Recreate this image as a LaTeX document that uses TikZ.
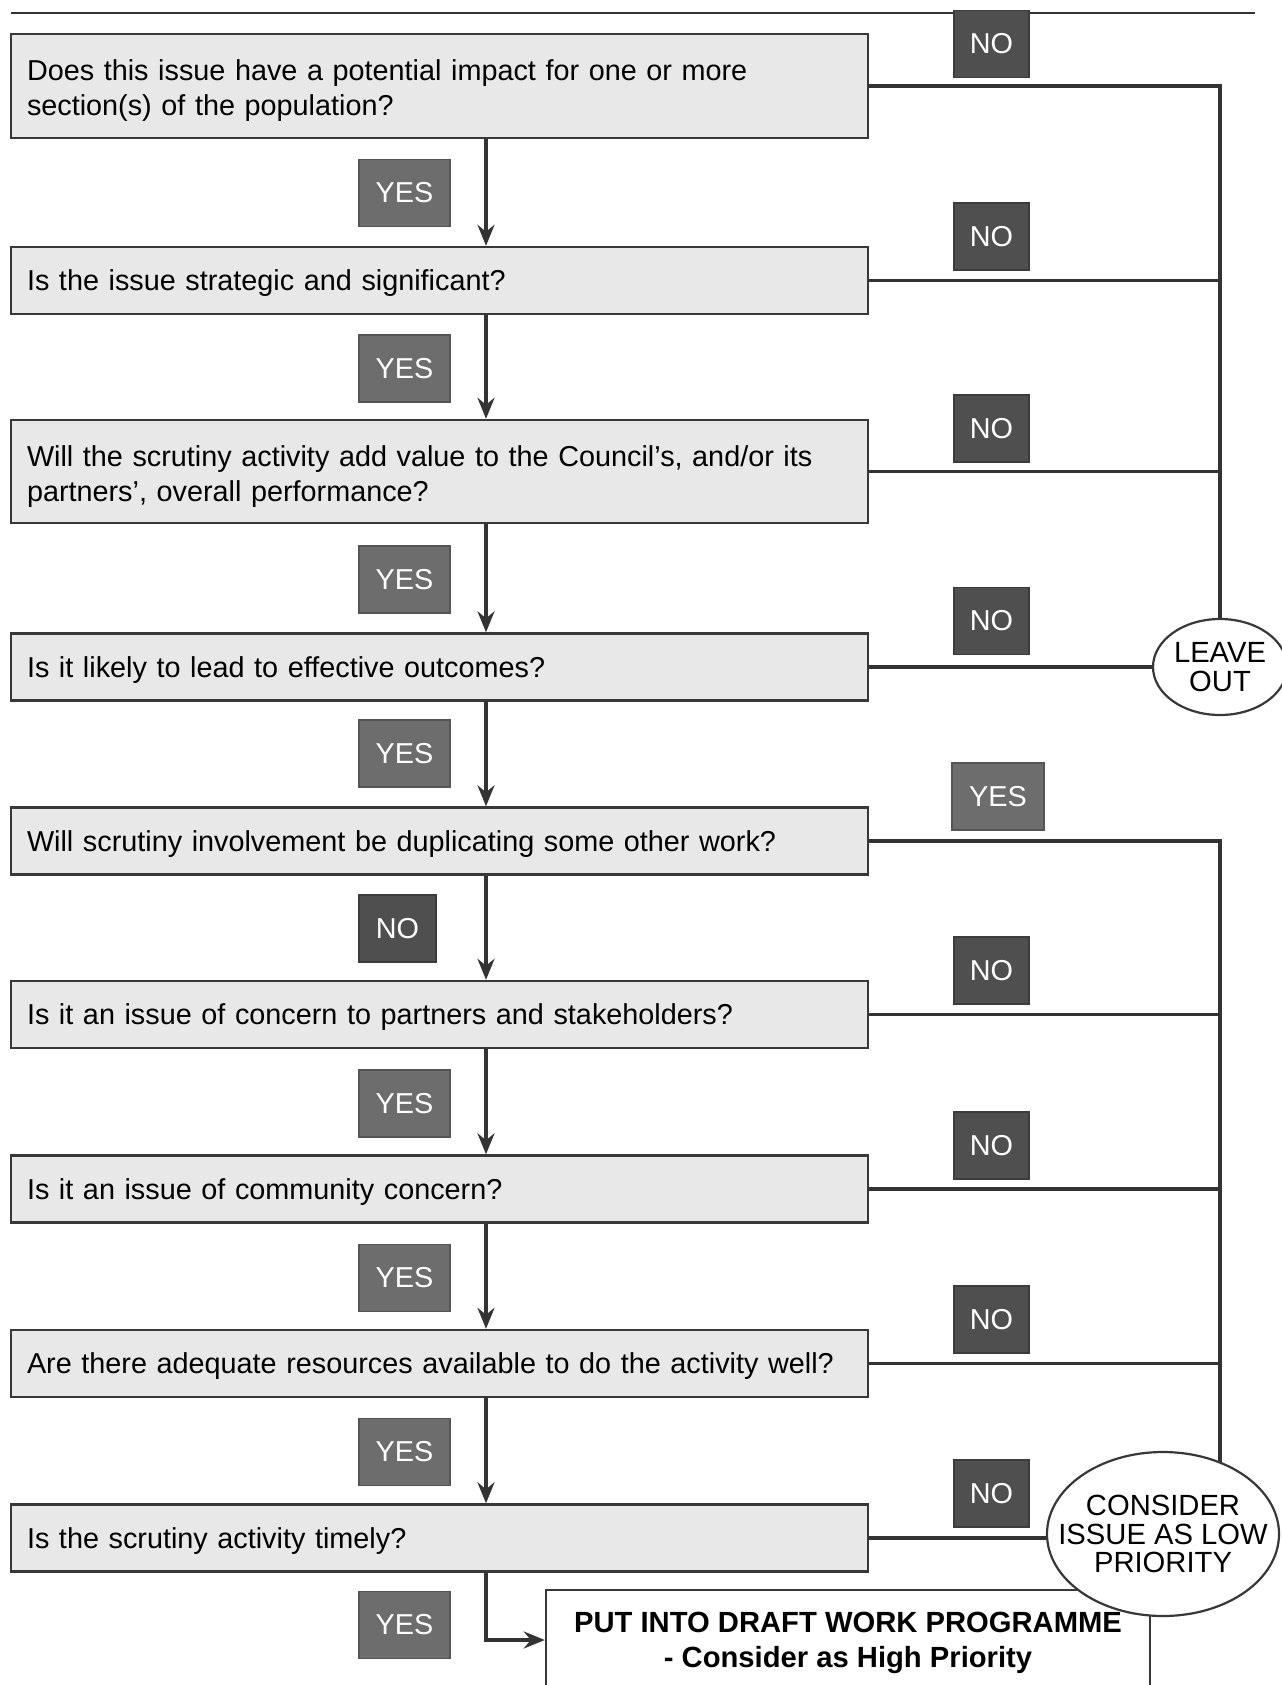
\documentclass[tikz,border=0pt]{standalone}
\usepackage{fontspec}
\setmainfont{Liberation Sans}
\usetikzlibrary{arrows.meta, shapes.geometric, backgrounds}
\definecolor{qfill}{HTML}{E8E8E8}
\definecolor{qline}{HTML}{383838}
\definecolor{nofill}{HTML}{4F4F4F}
\definecolor{noline}{HTML}{3C3C3C}
\definecolor{yesfill}{HTML}{6D6D6D}
\definecolor{yesline}{HTML}{555555}
\definecolor{wire}{HTML}{333333}
\tikzset{
  qbase/.style  = {rectangle, draw=qline, fill=qfill, line width=1.2pt, align=left,
                   text width=412.5pt, inner xsep=8pt, inner ysep=0pt, minimum height=33.5pt,
                   font=\fontsize{14.4}{17.5}\selectfont},
  qbox/.style   = {qbase, text depth=0pt},
  qtwo/.style   = {qbase, text depth=15.5pt, minimum height=52pt},
  nobox/.style  = {rectangle, draw=noline, fill=nofill, text=white, line width=0.6pt,
                   minimum width=37.5pt, minimum height=33.5pt, inner sep=0pt,
                   font=\fontsize{14.4}{17.5}\selectfont},
  yesbox/.style = {rectangle, draw=yesline, fill=yesfill, text=white, line width=0.6pt,
                   minimum width=45.5pt, minimum height=33.5pt, inner sep=0pt,
                   font=\fontsize{14.4}{17.5}\selectfont},
  endoval/.style= {ellipse, draw=qline, fill=white, line width=1.1pt, align=center,
                   inner sep=0pt, font=\fontsize{14.6}{14.4}\selectfont},
  progbox/.style= {rectangle, draw=qline, fill=white, line width=1.2pt, align=center,
                   minimum width=302pt, minimum height=50pt, text depth=0pt,
                   font=\bfseries\fontsize{14.6}{17.5}\selectfont},
  flow/.style   = {-{Stealth[length=10.5pt, width=8.5pt, inset=3.5pt]}, line width=1.7pt, draw=wire},
  link/.style   = {line width=1.7pt, draw=wire},
}
\begin{document}
\begin{tikzpicture}[x=0.5pt, y=-0.5pt]
					\useasboundingbox (0,0) rectangle (1281,1685);
					\coordinate (spine) at (486,0);
					\coordinate (trunk) at (1220,0);
					\coordinate (ruleL) at (11,13);
					\coordinate (ruleR) at (1255,13);
					\node[qtwo] (q1) at (439.5,86) {Does this issue have a potential impact for one or more\\section(s) of the population?};
					\node[qbox] (q2) at (439.5,280.5) {Is the issue strategic and significant?};
					\node[qtwo, minimum height=51.5pt] (q3) at (439.5,471.5) {Will the scrutiny activity add value to the Council’s, and/or its\\partners’, overall performance?};
					\node[qbox] (q4) at (439.5,667) {Is it likely to lead to effective outcomes?};
					\node[qbox] (q5) at (439.5,841) {Will scrutiny involvement be duplicating some other work?};
					\node[qbox] (q6) at (439.5,1014.5) {Is it an issue of concern to partners and stakeholders?};
					\node[qbox] (q7) at (439.5,1189) {Is it an issue of community concern?};
					\node[qbox] (q8) at (439.5,1363.5) {Are there adequate resources available to do the activity well?};
					\node[qbox] (q9) at (439.5,1538) {Is the scrutiny activity timely?};
					\node[nobox] (n1) at (991.5,44) {NO};
					\node[yesbox] (y1) at (404.5,193) {YES};
					\node[nobox] (n2) at (991.5,236.5) {NO};
					\node[yesbox] (y2) at (404.5,368.5) {YES};
					\node[nobox] (n3) at (991.5,428.5) {NO};
					\node[yesbox] (y3) at (404.5,579.5) {YES};
					\node[nobox] (n4) at (991.5,621) {NO};
					\node[yesbox] (y4) at (404.5,753.5) {YES};
					\node[yesbox, minimum width=46pt] (y5) at (998,796.5) {YES};
					\node[nobox, minimum width=38.5pt] (n5) at (397.5,928.5) {NO};
					\node[nobox] (n6) at (991.5,970.5) {NO};
					\node[yesbox] (y6) at (404.5,1103.5) {YES};
					\node[nobox] (n7) at (991.5,1145.5) {NO};
					\node[yesbox] (y7) at (404.5,1278) {YES};
					\node[nobox] (n8) at (991.5,1319.5) {NO};
					\node[yesbox] (y8) at (404.5,1452) {YES};
					\node[nobox] (n9) at (991.5,1493.5) {NO};
					\node[yesbox] (y9) at (404.5,1625) {YES};
					\node[endoval, minimum width=67pt, minimum height=48pt] (leave) at (1220,667) {LEAVE\\OUT};
					\node[progbox] (prog) at (848,1640) {PUT INTO DRAFT WORK PROGRAMME\\- Consider as High Priority};
					\node[endoval, minimum width=116pt, minimum height=82pt, inner xsep=-12pt] (consider) at (1163,1534) {CONSIDER\\ISSUE AS LOW\\PRIORITY};
					\begin{scope}[on background layer]
						\fill[white] (0,0) rectangle (1281,1685);
						\draw[line width=1.3pt, draw=wire] (ruleL) -- (ruleR);
						\draw[link] (q5.east) -| (trunk |- consider.center);
					\end{scope}
					\foreach \a/\b in {1/2,2/3,3/4,4/5,5/6,6/7,7/8,8/9}{\draw[flow] (q\a.south -| spine) -- (q\b.north -| spine);}
					\draw[flow] (q9.south -| spine) |- (prog.west);
					\draw[link] (q1.east) -| (leave.north);
					\foreach \a in {2,3,6,7,8}{\draw[link] (q\a.east) -- (q\a.east -| trunk);}
					\draw[link] (q4.east) -- (leave.west);
					\draw[link] (q9.east) -- (q9.east -| consider.west);
				\end{tikzpicture}
\end{document}
